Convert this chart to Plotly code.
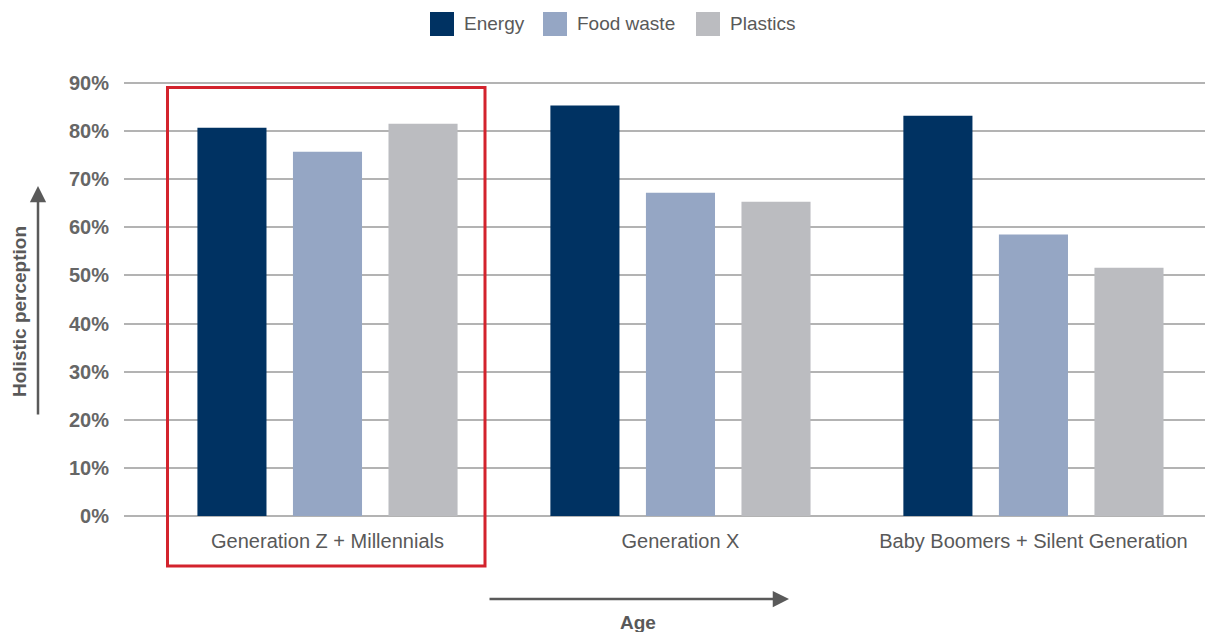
import plotly.graph_objects as go

# Survey results by generation
categories = ["Generation Z + Millennials", "Generation X", "Baby Boomers + Silent Generation"]
series_names = ["Energy", "Food waste", "Plastics"]
energy = [80.7, 85.3, 83.2]
food_waste = [75.7, 67.2, 58.5]
plastics = [81.5, 65.3, 51.6]
y_ticks = [0, 10, 20, 30, 40, 50, 60, 70, 80, 90]

series_values = [energy, food_waste, plastics]
colors = ["#003262", "#95a6c4", "#bbbcc0"]

FONT = "Liberation Sans"
TEXT = "#595959"
W_FIG, H_FIG = 1205, 632
M_L, M_R, M_T, M_B = 124, 0, 81, 116
PW = W_FIG - M_L - M_R
PH = H_FIG - M_T - M_B


def px_x(px):
    return (px - M_L) / PW


def px_y(py):
    return (H_FIG - M_B - py) / PH


fig = go.Figure()
for name, vals, col in zip(series_names, series_values, colors):
    fig.add_trace(go.Bar(
        x=categories, y=vals, name=name, marker=dict(color=col, line=dict(width=0)),
        showlegend=False,
    ))

shapes = []
annotations = []

# Legend row across the top
legend_x = [430, 543, 696]
for name, col, lx in zip(series_names, colors, legend_x):
    shapes.append(dict(type="rect", xref="paper", yref="paper",
                       x0=px_x(lx), x1=px_x(lx + 24), y0=px_y(36), y1=px_y(12),
                       fillcolor=col, line=dict(width=0)))
    annotations.append(dict(xref="paper", yref="paper", x=px_x(lx + 32), y=px_y(24),
                            text=name, showarrow=False, xanchor="left", yanchor="middle",
                            font=dict(family=FONT, size=19, color=TEXT)))

# Highlight box around the youngest group
shapes.append(dict(type="rect", xref="paper", yref="paper",
                   x0=px_x(167.5), x1=px_x(485), y0=px_y(566), y1=px_y(87.5),
                   line=dict(color="#d3232d", width=3), fillcolor="rgba(0,0,0,0)"))

# Vertical axis arrow and title
annotations.append(dict(xref="paper", yref="paper", axref="pixel", ayref="pixel",
                        x=px_x(38), y=px_y(186), ax=0, ay=230, text="",
                        showarrow=True, arrowhead=2, arrowsize=1.3, arrowwidth=2.5,
                        arrowcolor="#5a5a5a"))
annotations.append(dict(xref="paper", yref="paper", x=px_x(19), y=px_y(312),
                        text="<b>Holistic perception</b>", textangle=-90, showarrow=False,
                        xanchor="center", yanchor="middle",
                        font=dict(family=FONT, size=19, color=TEXT)))

# Horizontal axis arrow and title
annotations.append(dict(xref="paper", yref="paper", axref="pixel", ayref="pixel",
                        x=px_x(789), y=px_y(599), ax=-301, ay=0, text="",
                        showarrow=True, arrowhead=2, arrowsize=1.3, arrowwidth=2.5,
                        arrowcolor="#5a5a5a"))
annotations.append(dict(xref="paper", yref="paper", x=px_x(638), y=px_y(622),
                        text="<b>Age</b>", showarrow=False,
                        xanchor="center", yanchor="middle",
                        font=dict(family=FONT, size=19, color=TEXT)))

fig.update_layout(
    width=W_FIG, height=H_FIG,
    margin=dict(l=M_L, r=M_R, t=M_T, b=M_B),
    paper_bgcolor="white", plot_bgcolor="white",
    barmode="group", bargap=0.188, bargroupgap=0.277,
    showlegend=False,
    shapes=shapes, annotations=annotations,
    font=dict(family=FONT, color=TEXT),
)
fig.update_xaxes(
    type="category", range=[-0.5765, 2.486],
    showgrid=False, showline=False, zeroline=False, ticks="",
    tickfont=dict(family=FONT, size=20, color=TEXT),
    ticklabelstandoff=11,
)
fig.update_yaxes(
    range=[0, 90.4], tickvals=y_ticks, ticktext=[f"<b>{v}%</b>" for v in y_ticks],
    showgrid=True, gridcolor="#b3b3b3", gridwidth=1.5,
    zeroline=True, zerolinecolor="#b3b3b3", zerolinewidth=1.5,
    showline=False, ticks="",
    tickfont=dict(family=FONT, size=20, color="#666666"),
    ticklabelstandoff=14,
)

fig.write_html("out.html")
